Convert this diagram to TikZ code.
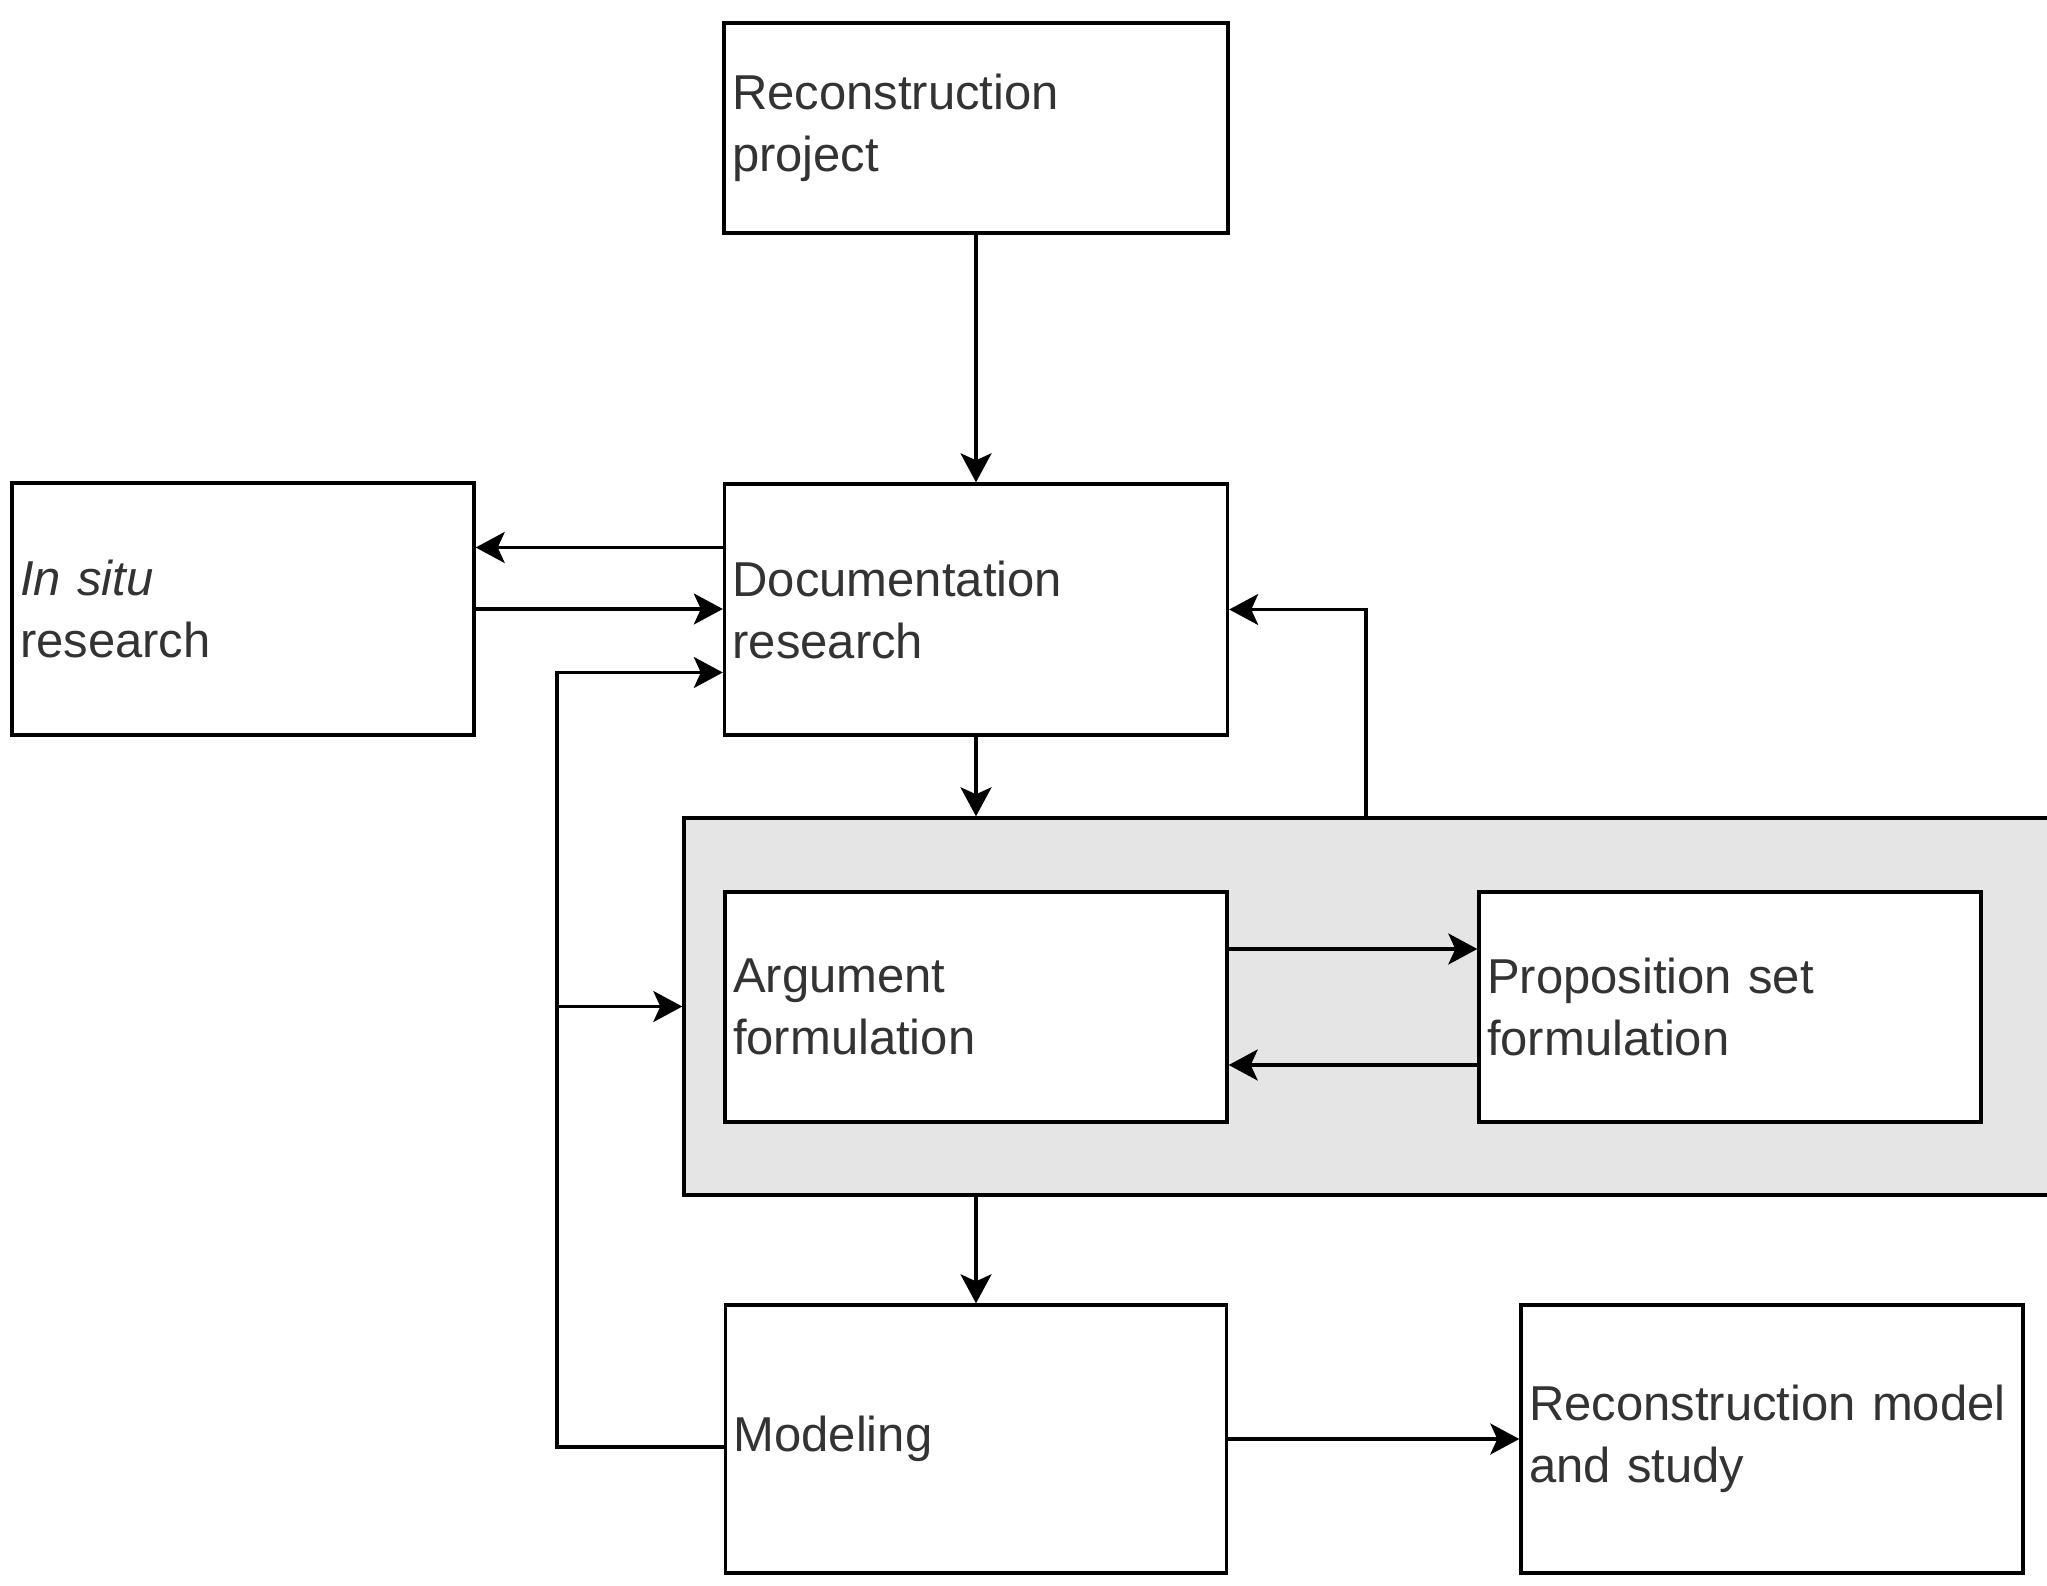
\documentclass[tikz,border=0pt]{standalone}
\usepackage{fontspec}
\setmainfont{Liberation Sans}
\usetikzlibrary{arrows.meta}
\tikzset{
  box/.style={draw=black, line width=3.4pt, fill=white, rectangle, inner xsep=8pt, inner ysep=0pt,
    align=left, text=black!80, font=\fontsize{49}{62}\selectfont},
  arr/.style={line width=3.2pt, -{Stealth[length=29pt,width=31pt,inset=7pt]}},
}
\begin{document}
\begin{tikzpicture}[x=1pt,y=-1pt]
\clip (0,0) rectangle (2047,1586);
\fill[white] (0,0) rectangle (2047,1586);
% nodes
\node[box, text width=488pt, minimum height=210pt] (rp) at (976,128) {Reconstruction\\project};
\node[box, text width=487pt, minimum height=251pt] (doc) at (976,609.5) {Documentation\\research};
\node[box, text width=446pt, minimum height=252pt] (insitu) at (243,609) {\textit{In situ}\\research};
\node[draw=black, line width=3.4pt, fill=gray!20, rectangle, minimum width=1376pt, minimum height=377pt, inner sep=0pt] (grp) at (1372,1006.5) {};
\node[box, text width=486pt, minimum height=230pt] (arg) at (976,1007) {Argument\\formulation};
\node[box, text width=486pt, minimum height=230pt] (prop) at (1730,1007) {Proposition set\\formulation};
\node[box, text width=485pt, minimum height=268pt] (mod) at (976,1439) {Modeling};
\node[box, text width=486pt, minimum height=268pt] (rm) at (1772,1439) {Reconstruction model\\and study};
% helper coordinates
\coordinate (d1) at ([yshift=62pt]doc.west);
\coordinate (d2) at ([yshift=-63pt]doc.west);
\coordinate (m1) at ([yshift=-8pt]mod.west);
\coordinate (lx) at (557,1447);
\coordinate (fb) at (1366,0);
% connectors
\draw[arr] (rp.south) -- (doc.north);
\draw[arr] (d1) -- (d1 -| insitu.east);
\draw[arr] (insitu.east) -- (insitu.east -| doc.west);
\draw[arr] (m1) -- (lx) |- (d2);
\draw[arr] (lx |- grp.west) -- (grp.west);
\draw[arr] (doc.south) -- (doc.south |- grp.north);
\draw[arr] (grp.north -| fb) |- (doc.east);
\draw[arr] ([yshift=58pt]arg.east) -- ([yshift=58pt]prop.west);
\draw[arr] ([yshift=-58pt]prop.west) -- ([yshift=-58pt]arg.east);
\draw[arr] (mod.north |- grp.south) -- (mod.north);
\draw[arr] (mod.east) -- (rm.west);
\end{tikzpicture}
\end{document}
